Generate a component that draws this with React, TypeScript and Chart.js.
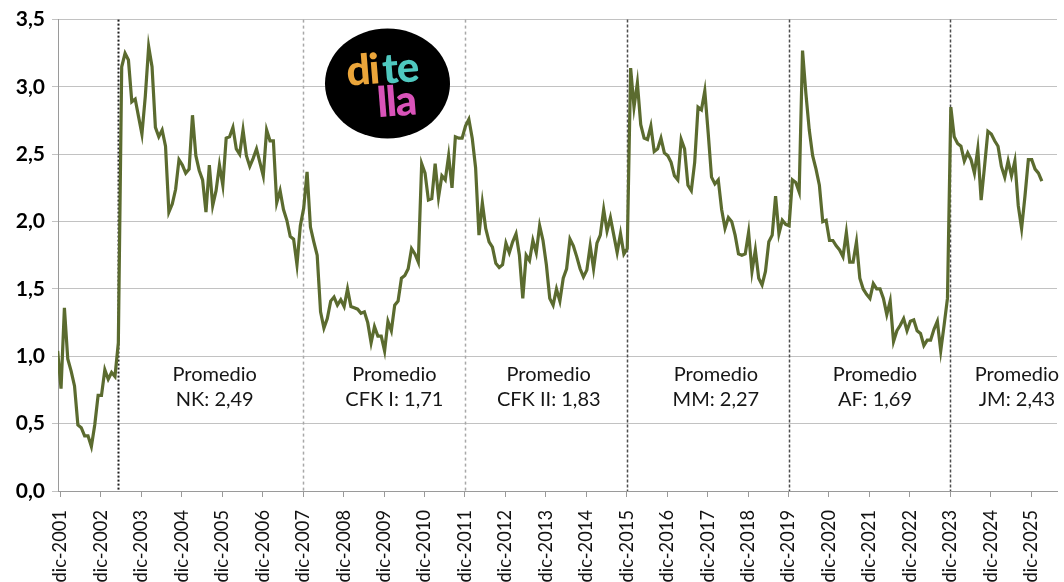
import { useEffect, useRef } from "react";
import { Chart, registerables } from "chart.js";

Chart.register(...registerables);

// ---- Data ----
// Monthly series, first value = dic-2001
const values: number[] = [
  1.04, 0.76, 1.36, 0.98, 0.89, 0.78, 0.49, 0.47, 0.41, 0.41, 0.33, 0.49,
  0.71, 0.71, 0.90, 0.83, 0.88, 0.85, 1.10, 3.15, 3.25, 3.20, 2.89, 2.91,
  2.78, 2.65, 2.93, 3.30, 3.15, 2.70, 2.63, 2.68, 2.56, 2.07, 2.13, 2.24,
  2.46, 2.42, 2.36, 2.39, 2.79, 2.49, 2.38, 2.31, 2.07, 2.42, 2.12, 2.23,
  2.42, 2.27, 2.62, 2.63, 2.70, 2.54, 2.50, 2.68, 2.49, 2.41, 2.47, 2.54,
  2.44, 2.34, 2.68, 2.60, 2.60, 2.14, 2.23, 2.09, 2.01, 1.89, 1.87, 1.68,
  1.97, 2.10, 2.37, 1.96, 1.85, 1.75, 1.33, 1.21, 1.28, 1.41, 1.44, 1.38,
  1.42, 1.37, 1.50, 1.37, 1.36, 1.35, 1.32, 1.33, 1.25, 1.10, 1.22, 1.15,
  1.15, 1.04, 1.26, 1.19, 1.38, 1.41, 1.58, 1.60, 1.65, 1.80, 1.76, 1.70,
  2.43, 2.36, 2.16, 2.17, 2.43, 2.18, 2.34, 2.31, 2.49, 2.25, 2.63, 2.62,
  2.62, 2.71, 2.76, 2.62, 2.40, 1.90, 2.14, 1.95, 1.85, 1.81, 1.69, 1.66,
  1.68, 1.84, 1.77, 1.85, 1.91, 1.75, 1.43, 1.75, 1.71, 1.86, 1.77, 1.97,
  1.86, 1.68, 1.43, 1.38, 1.50, 1.41, 1.58, 1.65, 1.87, 1.82, 1.74, 1.65,
  1.59, 1.64, 1.82, 1.65, 1.84, 1.90, 2.09, 1.93, 2.03, 1.90, 1.77, 1.91,
  1.76, 1.80, 3.14, 2.85, 3.03, 2.72, 2.62, 2.61, 2.71, 2.52, 2.54, 2.62,
  2.51, 2.49, 2.44, 2.34, 2.31, 2.61, 2.54, 2.27, 2.23, 2.44, 2.85, 2.83,
  2.97, 2.66, 2.33, 2.28, 2.31, 2.09, 1.95, 2.03, 2.00, 1.90, 1.76, 1.75,
  1.76, 1.92, 1.63, 1.79, 1.58, 1.53, 1.63, 1.85, 1.90, 2.19, 1.91, 2.01,
  1.98, 1.97, 2.31, 2.29, 2.22, 3.27, 2.95, 2.68, 2.49, 2.39, 2.27, 2.00,
  2.01, 1.86, 1.86, 1.82, 1.79, 1.74, 1.92, 1.70, 1.70, 1.85, 1.58, 1.50,
  1.46, 1.43, 1.54, 1.50, 1.50, 1.43, 1.31, 1.41, 1.11, 1.19, 1.23, 1.28,
  1.19, 1.26, 1.27, 1.19, 1.17, 1.08, 1.12, 1.12, 1.20, 1.26, 1.04, 1.23,
  1.43, 2.85, 2.63, 2.58, 2.56, 2.45, 2.51, 2.46, 2.36, 2.54, 2.16, 2.41,
  2.67, 2.65, 2.60, 2.56, 2.41, 2.33, 2.45, 2.34, 2.45, 2.12, 1.95, 2.19,
  2.46, 2.46, 2.39, 2.36, 2.30,
];

// Tick labels, one every 12 months starting at dic-2001
const tickLabels: string[] = [
  "dic-2001", "dic-2002", "dic-2003", "dic-2004", "dic-2005", "dic-2006",
  "dic-2007", "dic-2008", "dic-2009", "dic-2010", "dic-2011", "dic-2012",
  "dic-2013", "dic-2014", "dic-2015", "dic-2016", "dic-2017", "dic-2018",
  "dic-2019", "dic-2020", "dic-2021", "dic-2022", "dic-2023", "dic-2024",
  "dic-2025",
];

const yTicks: number[] = [0, 0.5, 1, 1.5, 2, 2.5, 3, 3.5];

// Government start months (index into values): may-2003, dic-2007, dic-2011, dic-2015, dic-2019, dic-2023
const mandateStarts: number[] = [17, 72, 120, 168, 216, 264];
const mandateNames: string[] = ["NK", "CFK I", "CFK II", "MM", "AF", "JM"];
const mandateAverages: number[] = [2.49, 1.71, 1.83, 2.27, 1.69, 2.43];
// centre (month index) of each "Promedio" label
const noteCenters: number[] = [46.6, 99.9, 145.7, 195.3, 242.5, 284.6];

// ---- Styles ----
const LINE_COLOR = "#5B6B2F";
const MARK_OFFSET = 0.85;
const markerStyles = [
  { color: "#1e1e1e", width: 2, dash: [2, 2] },
  { color: "#a8a8a8", width: 1.5, dash: [3, 3] },
  { color: "#a8a8a8", width: 1.5, dash: [3, 3] },
  { color: "#4d4d4d", width: 1.5, dash: [3, 2] },
  { color: "#4d4d4d", width: 1.5, dash: [3, 2] },
  { color: "#4d4d4d", width: 1.5, dash: [3, 2] },
];

const fmt = (v: number) => v.toFixed(2).replace(".", ",");

const overlayPlugin = {
  id: "overlay",
  beforeDatasetsDraw(chart: any) {
    const { ctx, chartArea, scales } = chart;
    const x = scales.x;
    ctx.save();
    mandateStarts.forEach((m, i) => {
      const st = markerStyles[i];
      const px = Math.round(x.getPixelForValue(m + MARK_OFFSET)) + 0.5;
      ctx.beginPath();
      ctx.setLineDash(st.dash);
      ctx.strokeStyle = st.color;
      ctx.lineWidth = st.width;
      ctx.moveTo(px, chartArea.top);
      ctx.lineTo(px, chartArea.bottom);
      ctx.stroke();
    });
    ctx.restore();
  },
  afterDatasetsDraw(chart: any) {
    const { ctx, scales } = chart;
    const x = scales.x;
    const y = scales.y;
    ctx.save();
    ctx.fillStyle = "#161616";
    ctx.font = "20px Lato";
    ctx.textAlign = "center";
    ctx.textBaseline = "alphabetic";
    noteCenters.forEach((m, i) => {
      const px = x.getPixelForValue(m);
      ctx.fillText("Promedio", px, y.getPixelForValue(0.82));
      ctx.fillText(`${mandateNames[i]}: ${fmt(mandateAverages[i])}`, px, y.getPixelForValue(0.63));
    });
    ctx.restore();

    // logo
    const lx = 387.5;
    const ly = 83.5;
    ctx.save();
    ctx.beginPath();
    ctx.ellipse(lx, ly, 62.5, 55, 0, 0, Math.PI * 2);
    ctx.fillStyle = "#000";
    ctx.fill();
    ctx.translate(lx, ly);
    ctx.rotate(-0.08);
    ctx.font = "900 42px Lato";
    ctx.textAlign = "left";
    ctx.textBaseline = "alphabetic";
    (ctx as any).letterSpacing = "-1.5px";
    ctx.fillStyle = "#EBA53A";
    ctx.fillText("di", -40, -1);
    ctx.fillStyle = "#4FC8BF";
    ctx.fillText("te", -4, 0);
    ctx.fillStyle = "#D953B9";
    ctx.fillText("lla", -12, 33);
    ctx.restore();
  },
};

export default function App() {
  const ref = useRef<HTMLCanvasElement | null>(null);
  useEffect(() => {
    document.body.style.margin = "0";
    if (!ref.current) return;
    Chart.defaults.font.family = "Lato";
    const chart = new Chart(ref.current, {
      type: "line",
      data: {
        datasets: [
          {
            data: values.map((v, i) => ({ x: i, y: v })),
            borderColor: LINE_COLOR,
            borderWidth: 3.2,
            pointRadius: 0,
            tension: 0,
            fill: false,
          },
        ],
      },
      options: {
        animation: false,
        responsive: false,
        devicePixelRatio: 1,
        events: [],
        layout: { padding: { top: 16, right: 7, left: 0, bottom: 0 } },
        plugins: { legend: { display: false }, tooltip: { enabled: false } },
        scales: {
          x: {
            type: "linear",
            min: 0.1,
            max: 296.5,
            afterBuildTicks: (scale: any) => {
              scale.ticks = tickLabels.map((_, k) => ({ value: 12 * k + MARK_OFFSET }));
            },
            afterFit: (scale: any) => {
              scale.height = 91;
              scale.paddingLeft = 0;
              scale.paddingRight = 0;
            },
            grid: {
              drawOnChartArea: false,
              drawTicks: true,
              tickLength: 6,
              color: "#9a9a9a",
            },
            border: { display: true, color: "#9a9a9a", width: 1 },
            ticks: {
              autoSkip: false,
              minRotation: 90,
              maxRotation: 90,
              padding: 13,
              color: "#111",
              font: { family: "Lato", size: 18.3 },
              callback: (_v: any, i: number) => tickLabels[i],
            },
          },
          y: {
            min: 0,
            max: 3.5,
            afterBuildTicks: (scale: any) => {
              scale.ticks = yTicks.map((v) => ({ value: v }));
            },
            afterFit: (scale: any) => {
              scale.width = 58;
            },
            grid: { color: "#c2c2c2", lineWidth: 1, tickLength: 6 },
            border: { display: true, color: "#9a9a9a", width: 1 },
            ticks: {
              padding: 7,
              color: "#000",
              font: { family: "Lato", size: 21, weight: "bold" },
              callback: (v: any) => Number(v).toFixed(1).replace(".", ","),
            },
          },
        },
      },
      plugins: [overlayPlugin],
    });
    return () => chart.destroy();
  }, []);
  return (
    <div style={{ width: 1064, height: 582 }}>
      <canvas ref={ref} width={1064} height={582} style={{ display: "block" }} />
    </div>
  );
}
